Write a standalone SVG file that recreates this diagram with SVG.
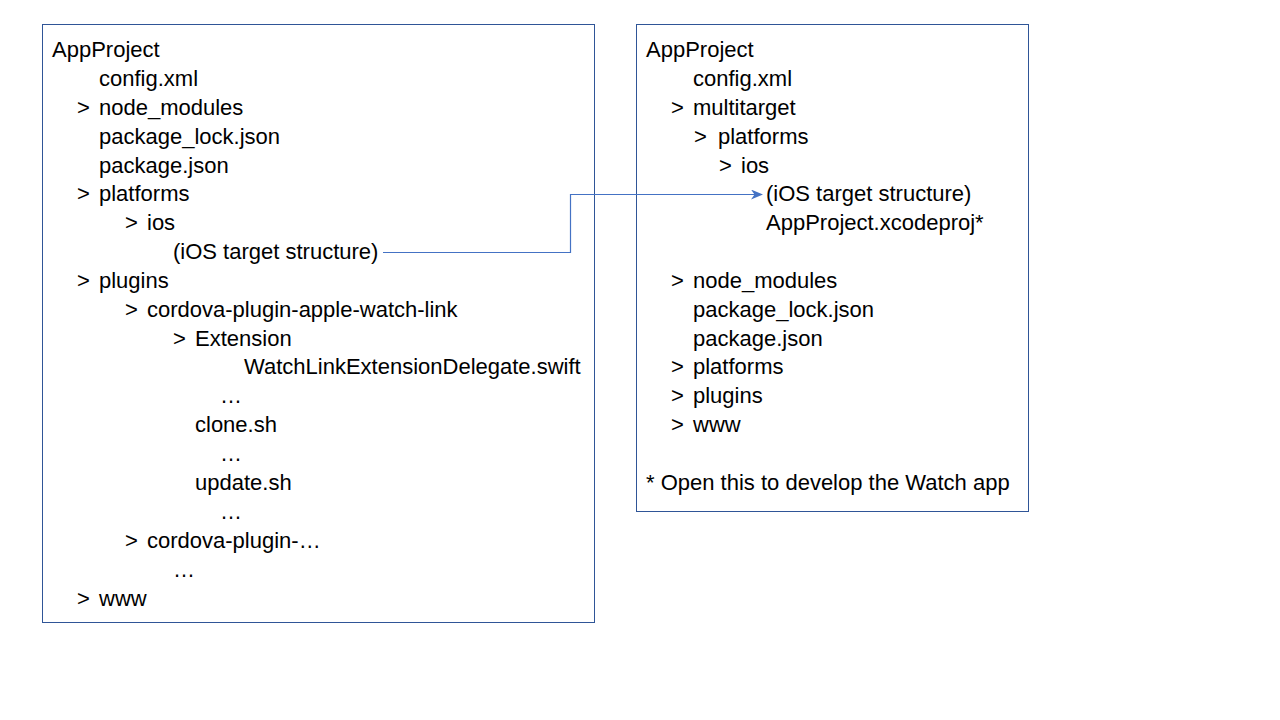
<svg xmlns="http://www.w3.org/2000/svg" width="1280" height="720" viewBox="0 0 1280 720">
<defs>
<style>
.box{fill:#ffffff;stroke:#2F5597;stroke-width:1}
text{font-family:"Liberation Sans",Arial,sans-serif;font-size:22px;fill:#000000}
.conn{fill:none;stroke:#4472C4;stroke-width:1.2}
</style>
<marker id="arr" viewBox="0 0 12 10" refX="11" refY="5" markerWidth="12" markerHeight="10" markerUnits="userSpaceOnUse" orient="auto">
<path d="M0,0 L12,5 L0,10 L3.5,5 Z" fill="#4472C4"/>
</marker>
</defs>
<rect width="1280" height="720" fill="#ffffff"/>
<g id="left-tree">
<rect class="box" x="42.5" y="24.5" width="552" height="598"/>
<text x="52" y="57">AppProject</text>
<text x="99" y="86">config.xml</text>
<text x="77" y="115">&gt;</text><text x="99" y="115">node_modules</text>
<text x="99" y="144">package_lock.json</text>
<text x="99" y="173">package.json</text>
<text x="77" y="201">&gt;</text><text x="99" y="201">platforms</text>
<text x="125" y="230">&gt;</text><text x="147" y="230">ios</text>
<text x="173" y="259">(iOS target structure)</text>
<text x="77" y="288">&gt;</text><text x="99" y="288">plugins</text>
<text x="125" y="317">&gt;</text><text x="147" y="317">cordova-plugin-apple-watch-link</text>
<text x="173" y="346">&gt;</text><text x="195" y="346">Extension</text>
<text x="244" y="374">WatchLinkExtensionDelegate.swift</text>
<text x="220" y="403">…</text>
<text x="195" y="432">clone.sh</text>
<text x="220" y="461">…</text>
<text x="195" y="490">update.sh</text>
<text x="220" y="519">…</text>
<text x="125" y="548">&gt;</text><text x="147" y="548">cordova-plugin-…</text>
<text x="173" y="577">…</text>
<text x="77" y="606">&gt;</text><text x="99" y="606">www</text>
</g>
<g id="right-tree">
<rect class="box" x="636.5" y="24.5" width="392" height="487"/>
<text x="646" y="57">AppProject</text>
<text x="693" y="86">config.xml</text>
<text x="671" y="115">&gt;</text><text x="693" y="115">multitarget</text>
<text x="694" y="144">&gt;</text><text x="718" y="144">platforms</text>
<text x="719" y="173">&gt;</text><text x="741" y="173">ios</text>
<text x="766" y="201">(iOS target structure)</text>
<text x="766" y="230">AppProject.xcodeproj*</text>
<text x="671" y="288">&gt;</text><text x="693" y="288">node_modules</text>
<text x="693" y="317">package_lock.json</text>
<text x="693" y="346">package.json</text>
<text x="671" y="374">&gt;</text><text x="693" y="374">platforms</text>
<text x="671" y="403">&gt;</text><text x="693" y="403">plugins</text>
<text x="671" y="432">&gt;</text><text x="693" y="432">www</text>
<text x="646" y="490">* Open this to develop the Watch app</text>
</g>
<g id="connectors">
<path class="conn" d="M383,252.5 H570.5 V194.5 H762" marker-end="url(#arr)"/>
</g>
</svg>
